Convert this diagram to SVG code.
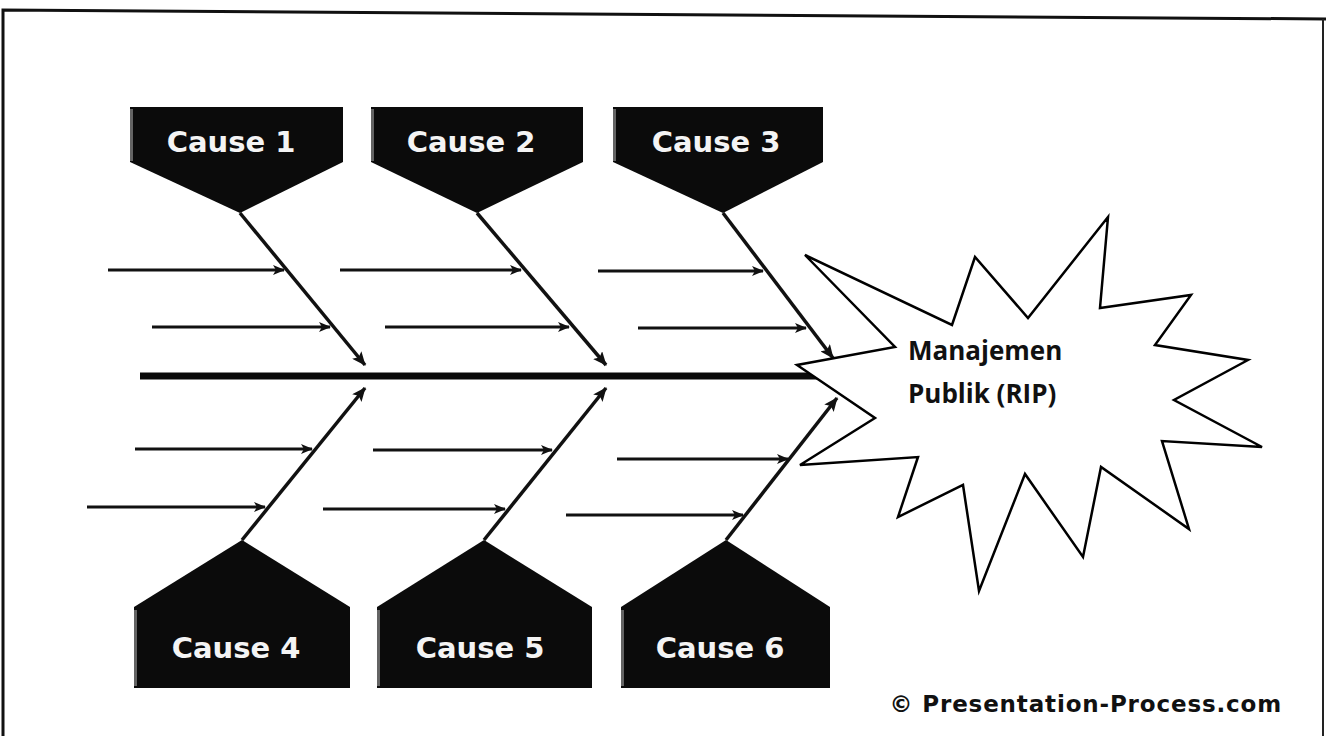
<svg xmlns="http://www.w3.org/2000/svg" width="1329" height="736" viewBox="0 0 1329 736">
  <style>
    .frame { fill: none; stroke: #111; stroke-width: 3; }
    .box { fill: #0b0b0b; }
    .bevel { fill: #8a8a8a; opacity: 0.7; }
    .cause { font-family: "DejaVu Sans", sans-serif; font-weight: bold; font-size: 29px; fill: #f4f4f4; text-anchor: middle; }
    .spine { stroke: #0a0a0a; stroke-width: 7; fill: none; }
    .bone { stroke: #111; stroke-width: 3.5; fill: none; marker-end: url(#headL); }
    .rib { stroke: #111; stroke-width: 3; fill: none; marker-end: url(#headS); }
    .burst { fill: #fff; stroke: #000; stroke-width: 2.5; stroke-linejoin: miter; }
    .effect { font-family: "Open Sans", "DejaVu Sans", sans-serif; font-weight: bold; font-size: 26px; fill: #111; }
    .credit { font-family: "DejaVu Sans", sans-serif; font-weight: bold; font-size: 23px; letter-spacing: 0.85px; fill: #111; }
  </style>
  <defs>
    <marker id="headL" viewBox="0 0 14 12" refX="13" refY="6" markerWidth="14" markerHeight="12" markerUnits="userSpaceOnUse" orient="auto">
      <path d="M0,0 L14,6 L0,12 L3,6 z" fill="#111"/>
    </marker>
    <marker id="headS" viewBox="0 0 12 10" refX="11" refY="5" markerWidth="12" markerHeight="10" markerUnits="userSpaceOnUse" orient="auto">
      <path d="M0,0 L12,5 L0,10 L3,5 z" fill="#111"/>
    </marker>
  </defs>

  <rect x="0" y="0" width="1329" height="736" fill="#fff"/>

  <!-- page frame -->
  <path class="frame" d="M3,736 L3,10 L1326,19"/>
  <path d="M1323,19 L1323,736" stroke="#222" stroke-width="2" fill="none"/>

  <!-- connectors: spine, cause bones and sub-cause ribs -->
  <g id="connectors">
    <line class="spine" x1="140" y1="376" x2="850" y2="376"/>

    <line class="bone" x1="240" y1="213" x2="365" y2="365"/>
    <line class="bone" x1="477" y1="213" x2="606" y2="365"/>
    <line class="bone" x1="723" y1="213" x2="833" y2="358"/>

    <line class="bone" x1="242" y1="540" x2="365" y2="388"/>
    <line class="bone" x1="484" y1="540" x2="606" y2="388"/>
    <line class="bone" x1="726" y1="540" x2="837" y2="398"/>

    <line class="rib" x1="108" y1="270" x2="284" y2="270"/>
    <line class="rib" x1="152" y1="327" x2="330" y2="327"/>
    <line class="rib" x1="340" y1="270" x2="521" y2="270"/>
    <line class="rib" x1="385" y1="327" x2="569" y2="327"/>
    <line class="rib" x1="598" y1="271" x2="763" y2="271"/>
    <line class="rib" x1="638" y1="328" x2="806" y2="328"/>

    <line class="rib" x1="135" y1="449" x2="312" y2="449"/>
    <line class="rib" x1="87" y1="507" x2="265" y2="507"/>
    <line class="rib" x1="373" y1="450" x2="552" y2="450"/>
    <line class="rib" x1="323" y1="509" x2="505" y2="509"/>
    <line class="rib" x1="617" y1="459" x2="788" y2="459"/>
    <line class="rib" x1="566" y1="515" x2="743" y2="515"/>
  </g>

  <!-- cause labels above the spine -->
  <g id="cause1">
    <path class="box" d="M130,107 L343,107 L343,162 L240,213 L130,162 z"/>
    <rect class="bevel" x="130" y="109" width="3" height="52"/>
    <text class="cause" x="231" y="152">Cause 1</text>
  </g>
  <g id="cause2">
    <path class="box" d="M371,107 L583,107 L583,162 L477,213 L371,162 z"/>
    <rect class="bevel" x="371" y="109" width="3" height="52"/>
    <text class="cause" x="471" y="152">Cause 2</text>
  </g>
  <g id="cause3">
    <path class="box" d="M613,107 L823,107 L823,162 L723,213 L613,162 z"/>
    <rect class="bevel" x="613" y="109" width="3" height="52"/>
    <text class="cause" x="716" y="152">Cause 3</text>
  </g>

  <!-- cause labels below the spine -->
  <g id="cause4">
    <path class="box" d="M242,540 L350,607 L350,688 L134,688 L134,607 z"/>
    <rect class="bevel" x="134" y="610" width="3" height="76"/>
    <text class="cause" x="236" y="658">Cause 4</text>
  </g>
  <g id="cause5">
    <path class="box" d="M484,540 L592,607 L592,688 L377,688 L377,607 z"/>
    <rect class="bevel" x="377" y="610" width="3" height="76"/>
    <text class="cause" x="480" y="658">Cause 5</text>
  </g>
  <g id="cause6">
    <path class="box" d="M726,540 L830,607 L830,688 L621,688 L621,607 z"/>
    <rect class="bevel" x="621" y="610" width="3" height="76"/>
    <text class="cause" x="720" y="658">Cause 6</text>
  </g>

  <!-- effect: starburst head -->
  <g id="effect">
    <polygon class="burst" points="805,255 952,325 975,257 1028,318 1108,217 1100,308 1191,295 1155,345 1248,360 1174,400 1262,447 1162,441 1189,529 1101,467 1083,557 1025,474 979,591 963,485 898,517 918,457 800,465 875,418 797,365 895,347"/>
    <text class="effect" x="908" y="360">Manajemen</text>
    <text class="effect" x="908" y="403">Publik (RIP)</text>
  </g>

  <text class="credit" x="1282" y="712" text-anchor="end">© Presentation-Process.com</text>
</svg>
